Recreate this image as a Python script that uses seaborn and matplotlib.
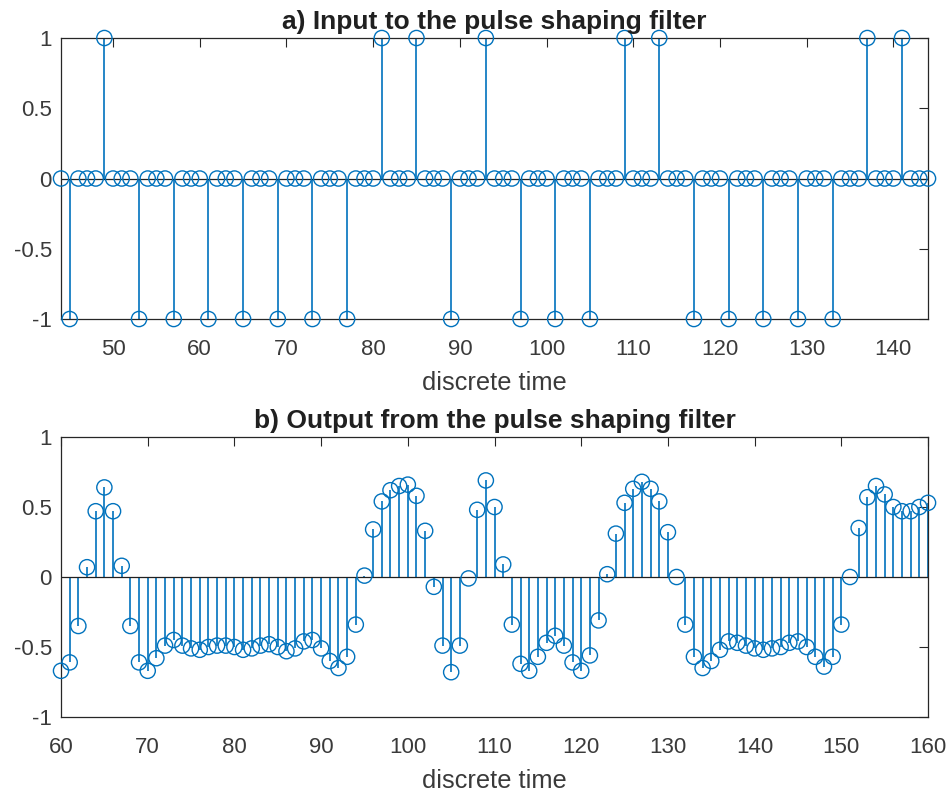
import numpy as np
import pandas as pd
import matplotlib
matplotlib.use("Agg")
import matplotlib.pyplot as plt
import seaborn as sns

# ---- data: top panel (upsampled symbols) ----
top_n = list(range(44, 145))
sym_pos = [45, 49, 53, 57, 61, 65, 69, 73, 77, 81, 85, 89, 93, 97, 101, 105,
           109, 113, 117, 121, 125, 129, 133, 137, 141]
sym_val = [-1, 1, -1, -1, -1, -1, -1, -1, -1, 1, 1, -1, 1, -1, -1, -1,
           1, 1, -1, -1, -1, -1, -1, 1, 1]

# ---- data: bottom panel (filter output) ----
bot_n = list(range(60, 161))
bot_val = [-0.67, -0.61, -0.35, 0.07, 0.47, 0.64, 0.47, 0.08, -0.35, -0.61,
           -0.67, -0.58, -0.49, -0.45, -0.49, -0.51, -0.52, -0.50, -0.49, -0.49,
           -0.50, -0.52, -0.51, -0.49, -0.48, -0.50, -0.53, -0.51, -0.46, -0.45,
           -0.51, -0.60, -0.65, -0.57, -0.34, 0.01, 0.34, 0.54, 0.62, 0.65,
           0.66, 0.58, 0.33, -0.07, -0.49, -0.68, -0.49, -0.01, 0.48, 0.69,
           0.50, 0.09, -0.34, -0.62, -0.67, -0.57, -0.47, -0.42, -0.49, -0.61,
           -0.67, -0.56, -0.31, 0.02, 0.31, 0.53, 0.63, 0.68, 0.63, 0.54,
           0.32, 0.00, -0.34, -0.57, -0.65, -0.60, -0.52, -0.46, -0.47, -0.49,
           -0.51, -0.52, -0.51, -0.50, -0.47, -0.46, -0.50, -0.57, -0.64, -0.57,
           -0.34, 0.00, 0.35, 0.57, 0.65, 0.59, 0.50, 0.47, 0.47, 0.50,
           0.53]

titles = ["a) Input to the pulse shaping filter", "b) Output from the pulse shaping filter"]
xlabel_txt = "discrete time"
yticks = [-1, -0.5, 0, 0.5, 1]
yticklabels = ["-1", "-0.5", "0", "0.5", "1"]
top_xticks = list(range(50, 141, 10))
bot_xticks = list(range(60, 161, 10))

sns.set_style("white")
plt.rcParams['font.family'] = ['Liberation Sans', 'DejaVu Sans']

BLUE = "#0072BD"
TXT = "#3a3a3a"

top_vals = [0.0] * len(top_n)
for p, v in zip(sym_pos, sym_val):
    top_vals[top_n.index(p)] = float(v)

df_top = pd.DataFrame({"n": top_n, "y": top_vals})
df_bot = pd.DataFrame({"n": bot_n, "y": bot_val})

fig = plt.figure(figsize=(9.49, 7.92), dpi=100)
ax1 = fig.add_axes([0.0643, 0.5972, 0.9136, 0.3548])
ax2 = fig.add_axes([0.0643, 0.0947, 0.9136, 0.3535])

panels = [(ax1, df_top, (44, 144), top_xticks, titles[0]),
          (ax2, df_bot, (60, 160), bot_xticks, titles[1])]

for ax, df, xl, xt, title in panels:
    ax.vlines(df["n"], 0, df["y"], color=BLUE, lw=1.2, zorder=2)
    ax.axhline(0, color="#202020", lw=0.9, zorder=2.5)
    sns.scatterplot(data=df, x="n", y="y", ax=ax, marker="o", s=120,
                    facecolor="none", edgecolor=BLUE, linewidth=1.0,
                    zorder=3, clip_on=False, legend=False)
    ax.set_xlim(*xl)
    ax.set_ylim(-1, 1)
    ax.set_xticks(xt)
    ax.set_yticks(yticks)
    ax.set_yticklabels(yticklabels)
    ax.tick_params(direction="in", top=True, right=True, length=6.5,
                   width=0.8, labelsize=16, colors="#262626", labelcolor=TXT)
    ax.tick_params(axis="x", pad=14.5)
    ax.tick_params(axis="y", pad=6.5)
    for sp in ax.spines.values():
        sp.set_visible(True)
        sp.set_color("#262626")
        sp.set_linewidth(0.9)
    ax.set_xlabel(xlabel_txt, fontsize=18.3, color=TXT, labelpad=7.5)
    ax.set_ylabel("")
    ax.set_title(title, fontsize=19, fontweight="bold", color="#202020", pad=6.5)

fig.savefig("out.png", dpi=100)
